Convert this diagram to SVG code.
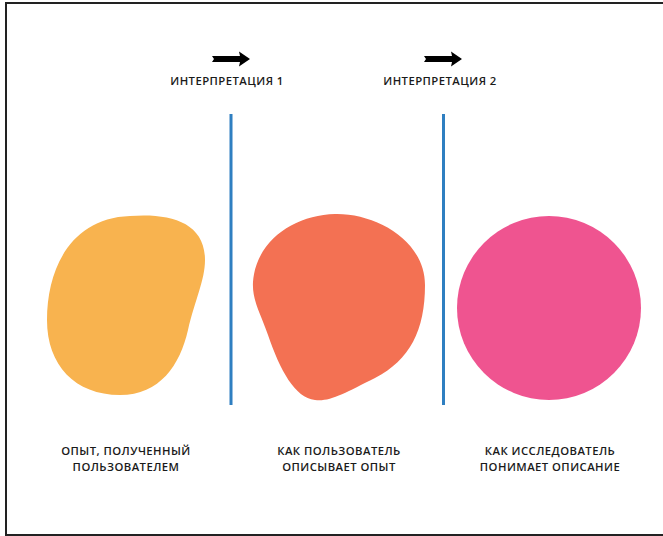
<svg xmlns="http://www.w3.org/2000/svg" width="663" height="536" viewBox="0 0 663 536">
  <defs>
    <style>
      .frame { fill: none; stroke: #222222; stroke-width: 2; }
      .divider { stroke: #2F7FC1; stroke-width: 3; }
      .label { font-family: "Open Sans", "Liberation Sans", sans-serif; font-size: 11.3px; font-weight: 600; letter-spacing: 0.45px; fill: #1a1a1a; text-anchor: middle; }
      .arrow { fill: #000000; }
    </style>
    <path id="arrowShape" d="M0 -3 L28 -3 L27 -7.5 L38 0 L27 7.5 L28 3 L0 3 L2 0 Z"/>
  </defs>

  <rect width="663" height="536" fill="#ffffff"/>
  <!-- open frame: top, left and bottom edges -->
  <path class="frame" d="M663 3 L6 3 L6 535 L663 535"/>

  <!-- stage dividers with their captions -->
  <g id="connectors">
    <line class="divider" x1="231" y1="114" x2="231" y2="405"/>
    <line class="divider" x1="443.5" y1="114" x2="443.5" y2="405"/>
    <use href="#arrowShape" class="arrow" x="212" y="59"/>
    <use href="#arrowShape" class="arrow" x="424" y="59"/>
    <text class="label" x="227" y="85">ИНТЕРПРЕТАЦИЯ 1</text>
    <text class="label" x="440" y="85">ИНТЕРПРЕТАЦИЯ 2</text>
  </g>

  <g id="experience">
    <path fill="#F8B34F" d="M130 216 C170 213 205 222 205 260 C205 280 195 300 188 330 C180 365 160 395 120 395 C75 395 47 365 47 320 C47 270 70 218 130 216 Z"/>
    <text class="label" x="126" y="455">ОПЫТ, ПОЛУЧЕННЫЙ</text>
    <text class="label" x="126" y="471">ПОЛЬЗОВАТЕЛЕМ</text>
  </g>

  <g id="description">
    <path fill="#F37153" d="M335 214 C375 213 425 240 425 285 C425 330 410 360 375 378 C345 393 330 402 315 400 C295 398 280 370 268 335 C260 312 252 300 253 282 C256 240 295 215 335 214 Z"/>
    <text class="label" x="339" y="455">КАК ПОЛЬЗОВАТЕЛЬ</text>
    <text class="label" x="339" y="471">ОПИСЫВАЕТ ОПЫТ</text>
  </g>

  <g id="understanding">
    <circle fill="#EF5490" cx="549" cy="308" r="92"/>
    <text class="label" x="550" y="455">КАК ИССЛЕДОВАТЕЛЬ</text>
    <text class="label" x="550" y="471">ПОНИМАЕТ ОПИСАНИЕ</text>
  </g>
</svg>
